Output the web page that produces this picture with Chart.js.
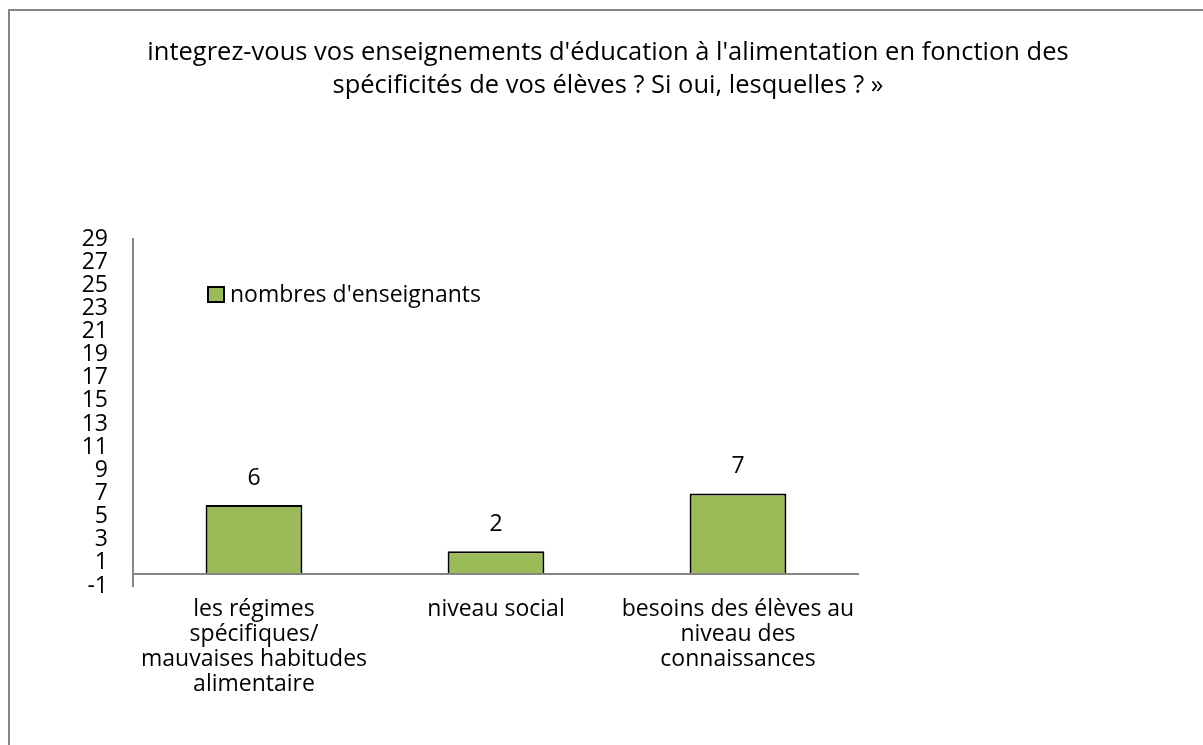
<!DOCTYPE html>
<html>
<head>
<meta charset="utf-8">
<script src="https://cdn.jsdelivr.net/npm/chart.js@4.4.1/dist/chart.umd.min.js"></script>
<style>
  html, body { margin: 0; padding: 0; background: #fff; overflow: hidden; }
  #wrap { width: 1203px; height: 745px; position: relative; }
</style>
</head>
<body>
<div id="wrap"><canvas id="chart"></canvas></div>
<script>
// données
const titleLines = [
    "integrez-vous vos enseignements d'éducation à l'alimentation en fonction des",
    "spécificités de vos élèves ? Si oui, lesquelles ? »"
];
const categories = [
    ["les régimes", "spécifiques/", "mauvaises habitudes", "alimentaire"],
    ["niveau social"],
    ["besoins des élèves au", "niveau des", "connaissances"]
];
const seriesName = "nombres d'enseignants";
const teachers = [6, 2, 7];
const yMin = -1;
const yMax = 29;
const yStep = 2;

const FONT = '"Open Sans", Lato, sans-serif';
const TXT = 23;
const TITLE = 25.5;
const GREEN = '#9bbb59';
const AXIS = '#868686';

// cadre, titre, ligne zéro, étiquettes et légende
const extras = {
    id: 'extras',
    beforeDraw(chart) {
        const ctx = chart.ctx;
        ctx.save();
        ctx.fillStyle = '#fff';
        ctx.fillRect(0, 0, chart.width, chart.height);
        ctx.strokeStyle = AXIS;
        ctx.lineWidth = 2;
        ctx.strokeRect(9, 10, 1400, 1000);
        ctx.restore();
    },
    afterDatasetsDraw(chart) {
        const ctx = chart.ctx;
        const area = chart.chartArea;
        const y = chart.scales.y;
        ctx.save();
        // ligne du zéro
        const y0 = Math.round(y.getPixelForValue(0));
        ctx.strokeStyle = AXIS;
        ctx.lineWidth = 2;
        ctx.beginPath();
        ctx.moveTo(area.left, y0);
        ctx.lineTo(area.right, y0);
        ctx.stroke();

        // valeurs au-dessus des barres
        ctx.fillStyle = '#000';
        ctx.font = TXT + 'px ' + FONT;
        ctx.textAlign = 'center';
        ctx.textBaseline = 'middle';
        chart.getDatasetMeta(0).data.forEach((bar, i) => {
            ctx.fillText(String(teachers[i]), bar.x, bar.y - 27);
        });

        // titre
        ctx.font = TITLE + 'px ' + FONT;
        titleLines.forEach((line, i) => {
            ctx.fillText(line, 608, 53 + i * 33);
        });

        // légende
        const lx = area.left + 75, ly = area.top + 48;
        ctx.fillStyle = GREEN;
        ctx.fillRect(lx, ly, 16, 15);
        ctx.strokeStyle = '#000';
        ctx.lineWidth = 2;
        ctx.strokeRect(lx, ly, 16, 15);
        ctx.fillStyle = '#000';
        ctx.font = TXT + 'px ' + FONT;
        ctx.textAlign = 'left';
        ctx.fillText(chart.data.datasets[0].label, lx + 22, ly + 8);
        ctx.restore();
    }
};

new Chart(document.getElementById('chart'), {
    type: 'bar',
    data: {
        labels: categories,
        datasets: [{
            label: seriesName,
            data: teachers,
            backgroundColor: GREEN,
            borderColor: '#000',
            borderWidth: 2,
            barPercentage: 0.4,
            categoryPercentage: 1
        }]
    },
    options: {
        responsive: true,
        maintainAspectRatio: false,
        animation: false,
        layout: { padding: { top: 239, right: 344, left: 0, bottom: 0 } },
        plugins: {
            legend: { display: false },
            title: { display: false },
            tooltip: { enabled: false }
        },
        scales: {
            x: {
                grid: { display: false, drawTicks: false },
                border: { display: false },
                ticks: {
                    color: '#000',
                    font: { family: FONT, size: TXT, lineHeight: '25px' },
                    padding: 11,
                    maxRotation: 0,
                    autoSkip: false
                },
                afterFit: s => { s.height = 159; }
            },
            y: {
                min: yMin,
                max: yMax,
                grid: { display: false, drawTicks: false },
                border: { display: true, color: AXIS, width: 2 },
                ticks: {
                    stepSize: yStep,
                    autoSkip: false,
                    color: '#000',
                    font: { family: FONT, size: TXT },
                    padding: 25
                },
                afterFit: s => { s.width = 133; }
            }
        }
    },
    plugins: [extras]
});
</script>
</body>
</html>
